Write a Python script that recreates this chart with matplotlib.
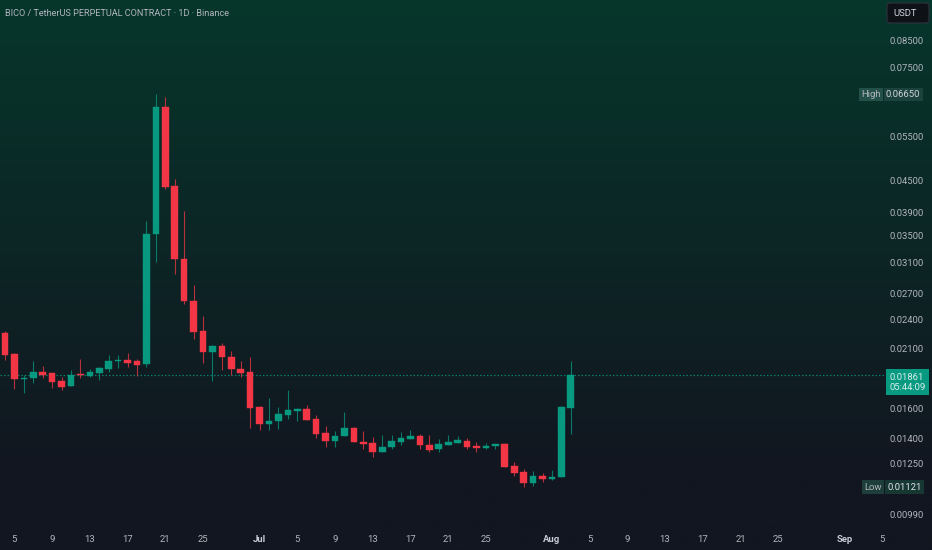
import numpy as np
import pandas as pd
import matplotlib
matplotlib.use("Agg")
import matplotlib.pyplot as plt
import matplotlib.dates as mdates
import matplotlib.transforms as mtransforms
from matplotlib.patches import FancyBboxPatch
from matplotlib.colors import to_rgb
from matplotlib.ticker import FixedLocator, FixedFormatter, NullLocator

plt.rcParams['font.family'] = ['Roboto', 'DejaVu Sans']

# ---------------- data ----------------
start_date = "2025-06-04"
opens = [0.02251, 0.02047, 0.01833, 0.01836, 0.01889, 0.01881, 0.01814, 0.01775, 0.01869, 0.01855,
         0.01881, 0.01915, 0.01988, 0.01995, 0.01983, 0.01959, 0.03526, 0.06289, 0.04390, 0.03157,
         0.02610, 0.02275, 0.02071, 0.02125, 0.02022, 0.01912, 0.01887, 0.01610, 0.01490, 0.01513,
         0.01557, 0.01583, 0.01597, 0.01527, 0.01431, 0.01383, 0.01413, 0.01468, 0.01377, 0.01367,
         0.01316, 0.01343, 0.01377, 0.01396, 0.01411, 0.01357, 0.01331, 0.01357, 0.01367, 0.01383,
         0.01349, 0.01338, 0.01351, 0.01363, 0.01234, 0.01201, 0.01144, 0.01181, 0.01163, 0.01172,
         0.01605]
highs = [0.02275, 0.02056, 0.01864, 0.01986, 0.01944, 0.01883, 0.01849, 0.01906, 0.02004, 0.01912,
         0.01935, 0.02040, 0.02040, 0.02062, 0.02001, 0.03746, 0.06650, 0.06562, 0.04531, 0.03919,
         0.02802, 0.02435, 0.02135, 0.02152, 0.02078, 0.01986, 0.02022, 0.01619, 0.01677, 0.01614,
         0.01741, 0.01602, 0.01627, 0.01557, 0.01479, 0.01446, 0.01576, 0.01474, 0.01446, 0.01405,
         0.01420, 0.01422, 0.01437, 0.01452, 0.01424, 0.01418, 0.01392, 0.01418, 0.01413, 0.01401,
         0.01374, 0.01367, 0.01363, 0.01367, 0.01256, 0.01215, 0.01206, 0.01193, 0.01211, 0.01617,
         0.01988]
lows = [0.01995, 0.01747, 0.01720, 0.01795, 0.01838, 0.01759, 0.01741, 0.01775, 0.01836, 0.01849,
        0.01822, 0.01892, 0.01921, 0.01935, 0.01855, 0.01935, 0.03115, 0.04330, 0.02946, 0.02568,
        0.02191, 0.01965, 0.01816, 0.01902, 0.01866, 0.01847, 0.01464, 0.01452, 0.01452, 0.01461,
        0.01529, 0.01511, 0.01520, 0.01399, 0.01346, 0.01346, 0.01413, 0.01374, 0.01334, 0.01283,
        0.01316, 0.01334, 0.01357, 0.01392, 0.01331, 0.01316, 0.01316, 0.01357, 0.01367, 0.01334,
        0.01316, 0.01331, 0.01331, 0.01226, 0.01179, 0.01121, 0.01128, 0.01149, 0.01158, 0.01172,
        0.01428]
closes = [0.02040, 0.01828, 0.01841, 0.01887, 0.01866, 0.01808, 0.01767, 0.01866, 0.01861, 0.01887,
          0.01921, 0.01988, 0.01995, 0.01968, 0.01953, 0.03531, 0.06289, 0.04376, 0.03153, 0.02610,
          0.02261, 0.02071, 0.02128, 0.02019, 0.01911, 0.01883, 0.01607, 0.01490, 0.01515, 0.01559,
          0.01588, 0.01597, 0.01520, 0.01428, 0.01383, 0.01415, 0.01466, 0.01374, 0.01365, 0.01316,
          0.01346, 0.01382, 0.01401, 0.01411, 0.01355, 0.01328, 0.01361, 0.01374, 0.01388, 0.01343,
          0.01340, 0.01351, 0.01363, 0.01230, 0.01197, 0.01144, 0.01179, 0.01163, 0.01175, 0.01610,
          0.01861]

price_ticks = [0.085, 0.075, 0.055, 0.045, 0.039, 0.035, 0.031, 0.027, 0.024, 0.021,
               0.016, 0.014, 0.0125, 0.0099]
price_tick_labels = ["0.08500", "0.07500", "0.05500", "0.04500", "0.03900", "0.03500", "0.03100",
                     "0.02700", "0.02400", "0.02100", "0.01600", "0.01400", "0.01250", "0.00990"]

date_ticks = ["2025-06-05", "2025-06-09", "2025-06-13", "2025-06-17", "2025-06-21", "2025-06-25",
              "2025-07-01", "2025-07-05", "2025-07-09", "2025-07-13", "2025-07-17", "2025-07-21",
              "2025-07-25", "2025-08-01", "2025-08-05", "2025-08-09", "2025-08-13", "2025-08-17",
              "2025-08-21", "2025-08-25", "2025-09-01", "2025-09-05"]
date_tick_labels = ["5", "9", "13", "17", "21", "25", "Jul", "5", "9", "13", "17", "21",
                    "25", "Aug", "5", "9", "13", "17", "21", "25", "Sep", "5"]

title = "BICO / TetherUS PERPETUAL CONTRACT \u00b7 1D \u00b7 Binance"
high_value = 0.06650
low_value = 0.01121
last_price = closes[-1]
countdown = "05:44:09"

# ---------------- style ----------------
W, H = 932, 550
UP = '#089981'
DOWN = '#F23645'
TXT = '#b2b5be'
FS = 6.8

fig = plt.figure(figsize=(W / 100, H / 100), dpi=100)

def fx(px):
    return px / W

def fy(py):
    return 1 - py / H

# background gradient
bg = fig.add_axes([0, 0, 1, 1], zorder=0)
top_c = np.array(to_rgb('#06362b'))
bot_c = np.array(to_rgb('#121620'))
t = np.linspace(0, 1, 256)[:, None]
t = np.clip(t * 1.15, 0, 1)
grad = top_c[None, :] * (1 - t) + bot_c[None, :] * t
bg.imshow(grad[:, None, :], aspect='auto', extent=[0, 1, 0, 1], origin='upper')
bg.set_axis_off()

# main axes: pixel x 0..885, y 0..525
ax_bottom_px = 525
ax_right_px = 885
ax = fig.add_axes([0, fy(ax_bottom_px), fx(ax_right_px), ax_bottom_px / H], zorder=1)
ax.set_facecolor('none')
for s in ax.spines.values():
    s.set_visible(False)

dates = pd.date_range(start_date, periods=len(opens), freq="D")
xs = mdates.date2num(dates)
px_per_day = 9.43
x0_px = 5.0
ax.set_xlim(xs[0] - x0_px / px_per_day, xs[0] + (ax_right_px - x0_px) / px_per_day)

ax.set_yscale('log')
px_per_ln = 220.6
ref_px = 375.3
ax.set_ylim(last_price * np.exp(-(ax_bottom_px - ref_px) / px_per_ln),
            last_price * np.exp(ref_px / px_per_ln))

body_w = 0.70
for x, o, h, l, c in zip(xs, opens, highs, lows, closes):
    col = UP if c >= o else DOWN
    ax.vlines(x, l, h, color=col, lw=0.8, alpha=0.75, zorder=2)
    lo, hi = min(o, c), max(o, c)
    if hi / lo < 1.004:
        hi = lo * 1.004
    ax.bar(x, hi - lo, bottom=lo, width=body_w, color=col, edgecolor=col, lw=0.3, zorder=3)

# last price dotted line
ax.axhline(last_price, color=UP, lw=0.9, ls=(0, (1.2, 1.6)), alpha=0.8, zorder=1)

# y ticks (right)
ax.yaxis.set_major_locator(FixedLocator(price_ticks))
ax.yaxis.set_major_formatter(FixedFormatter(price_tick_labels))
ax.yaxis.set_minor_locator(NullLocator())
ax.yaxis.tick_right()
ax.tick_params(axis='y', length=0, pad=3.6, labelsize=FS, labelcolor=TXT)

# x ticks
ax.xaxis.set_major_locator(FixedLocator(mdates.date2num(pd.to_datetime(date_ticks))))
ax.xaxis.set_major_formatter(FixedFormatter(date_tick_labels))
ax.xaxis.set_minor_locator(NullLocator())
ax.tick_params(axis='x', length=0, pad=7.5, labelsize=FS, labelcolor=TXT)
for lab in ax.get_xticklabels():
    if lab.get_text() in ("Jul", "Aug", "Sep"):
        lab.set_fontweight('bold')
        lab.set_color('#c8ccd6')

# title
fig.text(fx(5), fy(13), title, fontsize=6.6, color=TXT, va='center', ha='left')

# USDT box
fig.patches.append(FancyBboxPatch((fx(887), fy(23)), fx(42), 20 / H,
                                  boxstyle='round,pad=0,rounding_size=0.004',
                                  transform=fig.transFigure, fc='#0e1116', ec='#2e323d', lw=0.8))
fig.text(fx(893), fy(13.5), "USDT", fontsize=FS, color='#d1d4dc', va='center', ha='left')

blend = mtransforms.blended_transform_factory(fig.transFigure, ax.transData)

# High label
ax.text(fx(881), high_value, "High", transform=blend, ha='right', va='center', fontsize=FS,
        color=TXT, clip_on=False, zorder=5,
        bbox=dict(boxstyle='square,pad=0.25', fc='#24504a', ec='none'))
ax.text(fx(886), high_value, "0.06650", transform=blend, ha='left', va='center', fontsize=FS,
        color='#d1d4dc', clip_on=False, zorder=5,
        bbox=dict(boxstyle='square,pad=0.25', fc='#1c423c', ec='none'))

# Low label
ax.text(fx(882), low_value, "Low", transform=blend, ha='right', va='center', fontsize=FS,
        color=TXT, clip_on=False, zorder=5,
        bbox=dict(boxstyle='square,pad=0.25', fc='#1d3e3a', ec='none'))
ax.text(fx(887), low_value, "0.01121", transform=blend, ha='left', va='center', fontsize=FS,
        color='#e0e3eb', clip_on=False, zorder=5,
        bbox=dict(boxstyle='square,pad=0.25', fc='#173733', ec='none'))

# last price label
ax.annotate(f"{last_price:.5f}\n{countdown}", xy=(fx(889), last_price), xycoords=blend,
            xytext=(0, 1.8), textcoords='offset points', ha='left', va='top', fontsize=FS,
            color='#d6efea', linespacing=1.15, annotation_clip=False, zorder=6,
            bbox=dict(boxstyle='square,pad=0.35', fc=UP, ec='none'))

fig.savefig("out.png", dpi=100, facecolor='#121620')
